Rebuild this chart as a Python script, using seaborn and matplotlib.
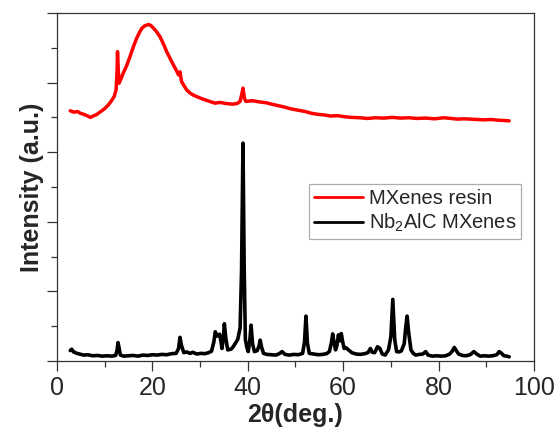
import matplotlib
matplotlib.use("Agg")
import matplotlib.pyplot as plt
import seaborn as sns
import pandas as pd
from matplotlib.ticker import MultipleLocator

# ---- data (arbitrary intensity units 0-10) ----
resin_2theta = [2.8, 3.6, 4.3, 4.9, 5.6, 6.3, 7.0, 7.6, 8.3, 9.1, 9.9, 10.8, 11.4, 12.0, 12.4,
                12.6, 12.7, 12.85, 13.0, 13.4, 13.9, 14.6, 15.3, 16.0, 16.7, 17.3, 17.8, 18.4,
                19.2, 19.7, 20.2, 20.9, 21.6, 22.3, 23.0, 23.7, 24.4, 25.0, 25.5, 25.8, 26.1,
                26.6, 27.2, 27.9, 28.6, 29.6, 30.7, 31.8, 33.1, 34.2, 35.4, 36.8, 37.8, 38.4,
                38.8, 39.0, 39.3, 39.6, 40.3, 41.0, 42.2, 43.9, 45.0, 46.3, 47.6, 48.9, 50.4,
                52.0, 53.3, 54.6, 56.0, 57.4, 58.8, 60.2, 61.8, 63.4, 65.1, 66.8, 68.5, 70.3,
                72.0, 73.7, 75.5, 77.3, 79.2, 81.1, 82.6, 84.0, 85.3, 86.7, 88.1, 89.5, 91.0,
                92.4, 93.7, 94.8]
resin_int = [7.19, 7.15, 7.17, 7.12, 7.09, 7.05, 7.00, 7.04, 7.08, 7.16, 7.24, 7.36, 7.47, 7.60, 7.79,
             8.30, 8.89, 8.40, 7.98, 8.10, 8.27, 8.48, 8.74, 9.02, 9.27, 9.44, 9.56, 9.63,
             9.67, 9.64, 9.57, 9.46, 9.32, 9.12, 8.89, 8.70, 8.51, 8.36, 8.22, 8.31, 8.04,
             7.92, 7.79, 7.70, 7.64, 7.58, 7.52, 7.47, 7.41, 7.43, 7.40, 7.38, 7.40, 7.46,
             7.70, 7.84, 7.55, 7.46, 7.47, 7.48, 7.45, 7.42, 7.38, 7.34, 7.30, 7.25, 7.21,
             7.17, 7.12, 7.09, 7.07, 7.04, 7.05, 7.02, 7.00, 6.99, 6.97, 6.99, 6.98, 7.00,
             6.98, 6.99, 6.97, 6.98, 6.96, 6.99, 6.97, 6.95, 6.96, 6.95, 6.94, 6.93, 6.94,
             6.92, 6.91, 6.90]

nb2alc_2theta = [2.8, 3.1, 3.5, 4.2, 5.0, 5.6, 6.5, 7.5, 8.5, 9.5, 10.5, 11.5, 12.3, 12.6, 12.8,
                 13.0, 13.3, 14.0, 15.0, 16.0, 17.0, 18.0, 19.0, 20.0, 21.0, 22.0, 23.0, 24.0,
                 25.0, 25.5, 25.8, 26.1, 26.6, 27.2, 27.9, 28.5, 29.3, 30.2, 31.0, 31.8, 32.4,
                 32.9, 33.2, 33.5, 33.9, 34.1, 34.4, 34.6, 34.9, 35.1, 35.4, 35.8, 36.5, 37.0,
                 37.4, 37.9, 38.4, 38.7, 39.0, 39.25, 39.5, 39.8, 40.1, 40.4, 40.7, 41.0,
                 41.4, 42.0, 42.4, 42.6, 42.9, 43.3, 44.0, 45.0, 45.9, 46.6, 47.2, 47.8, 48.7,
                 49.7, 50.6, 51.5, 51.9, 52.2, 52.5, 52.9, 53.8, 54.8, 55.7, 56.5, 57.1, 57.5,
                 57.8, 58.1, 58.4, 58.7, 59.0, 59.3, 59.6, 59.9, 60.2, 60.6, 61.1, 61.8, 62.7,
                 63.6, 64.5, 65.2, 65.7, 66.1, 66.6, 67.2, 67.7, 68.2, 68.8, 69.5, 70.0, 70.4,
                 70.8, 71.2, 71.7, 72.2, 72.8, 73.1, 73.4, 73.7, 74.2, 74.7, 75.2, 76.0, 76.7,
                 77.3, 77.8, 78.7, 79.6, 80.5, 81.5, 82.3, 82.8, 83.3, 83.7, 84.2, 85.0, 85.7,
                 86.6, 87.4, 88.0, 88.7, 89.6, 90.5, 91.3, 92.2, 92.7, 93.2, 93.7, 94.3, 94.8]
nb2alc_int = [0.30, 0.34, 0.26, 0.22, 0.19, 0.17, 0.18, 0.15, 0.16, 0.14, 0.15, 0.14, 0.16, 0.30, 0.53,
              0.40, 0.17, 0.14, 0.15, 0.16, 0.14, 0.17, 0.16, 0.18, 0.17, 0.19, 0.18, 0.21,
              0.22, 0.36, 0.68, 0.45, 0.24, 0.26, 0.22, 0.25, 0.20, 0.22, 0.21, 0.24, 0.28,
              0.55, 0.84, 0.72, 0.74, 0.77, 0.55, 0.36, 0.70, 1.07, 0.65, 0.32, 0.34, 0.42,
              0.51, 0.62, 0.95, 2.60, 6.26, 2.70, 0.62, 0.40, 0.27, 0.55, 1.03, 0.50,
              0.27, 0.30, 0.45, 0.60, 0.40, 0.22, 0.19, 0.18, 0.17, 0.21, 0.27, 0.19, 0.17,
              0.19, 0.18, 0.22, 0.55, 1.29, 0.52, 0.22, 0.20, 0.18, 0.19, 0.21, 0.27, 0.50,
              0.78, 0.52, 0.32, 0.45, 0.75, 0.58, 0.79, 0.55, 0.36, 0.38, 0.32, 0.24, 0.20,
              0.19, 0.21, 0.24, 0.36, 0.25, 0.24, 0.41, 0.36, 0.20, 0.17, 0.32, 0.70, 1.77,
              0.62, 0.27, 0.26, 0.29, 0.50, 0.95, 1.29, 0.85, 0.32, 0.22, 0.17, 0.19, 0.20,
              0.27, 0.17, 0.14, 0.15, 0.14, 0.15, 0.20, 0.27, 0.39, 0.30, 0.20, 0.16, 0.15,
              0.18, 0.27, 0.20, 0.14, 0.15, 0.14, 0.15, 0.18, 0.27, 0.22, 0.15, 0.14, 0.12]

legend_labels = ["MXenes resin", "Nb$_2$AlC MXenes"]
x_ticks = [0, 20, 40, 60, 80, 100]

# ---- styling ----
sns.set_style("ticks")
plt.rcParams["font.family"] = ["Liberation Sans", "DejaVu Sans"]
plt.rcParams["mathtext.fontset"] = "custom"
plt.rcParams["mathtext.rm"] = "Liberation Sans"
plt.rcParams["mathtext.it"] = "Liberation Sans"

fig = plt.figure(figsize=(5.58, 4.29), dpi=100)
ax = fig.add_axes([0.102, 0.1585, 0.855, 0.8112])

df_resin = pd.DataFrame({"x": resin_2theta, "y": resin_int})
df_nb = pd.DataFrame({"x": nb2alc_2theta, "y": nb2alc_int})

sns.lineplot(data=df_resin, x="x", y="y", sort=False, ax=ax, color="#ff0000",
             linewidth=2.5, label=legend_labels[0])
sns.lineplot(data=df_nb, x="x", y="y", sort=False, ax=ax, color="#000000",
             linewidth=2.6, label=legend_labels[1])

ax.set_xlim(0, 100)
ax.set_ylim(0, 10)
ax.set_xticks(x_ticks)
ax.xaxis.set_minor_locator(MultipleLocator(10))
ax.yaxis.set_major_locator(MultipleLocator(2))
ax.yaxis.set_minor_locator(MultipleLocator(1))
ax.set_yticklabels([])
ax.tick_params(axis="x", which="major", direction="out", length=7, width=0.9,
               labelsize=18, color="#333333", pad=4)
ax.tick_params(axis="x", which="minor", direction="out", length=4, width=0.9, color="#333333")
ax.tick_params(axis="y", which="major", direction="out", length=7, width=0.9, color="#333333")
ax.tick_params(axis="y", which="minor", direction="out", length=4, width=0.9, color="#333333")

for s in ax.spines.values():
    s.set_visible(True)
    s.set_color("#333333")
    s.set_linewidth(0.9)

ax.set_xlabel("2θ(deg.)", fontsize=18, fontweight="bold", labelpad=2)
ax.set_ylabel("Intensity (a.u.)", fontsize=18, fontweight="bold", labelpad=-1)

leg = ax.legend(loc="upper left", bbox_to_anchor=(0.529, 0.509), borderaxespad=0,
                fontsize=14.5, frameon=True, fancybox=False, edgecolor="#999999",
                handlelength=2.4, handletextpad=0.3, borderpad=0.25, labelspacing=0.2)
leg.get_frame().set_linewidth(0.9)
for line in leg.get_lines():
    line.set_linewidth(2.0)

fig.savefig("out.png", dpi=100)
